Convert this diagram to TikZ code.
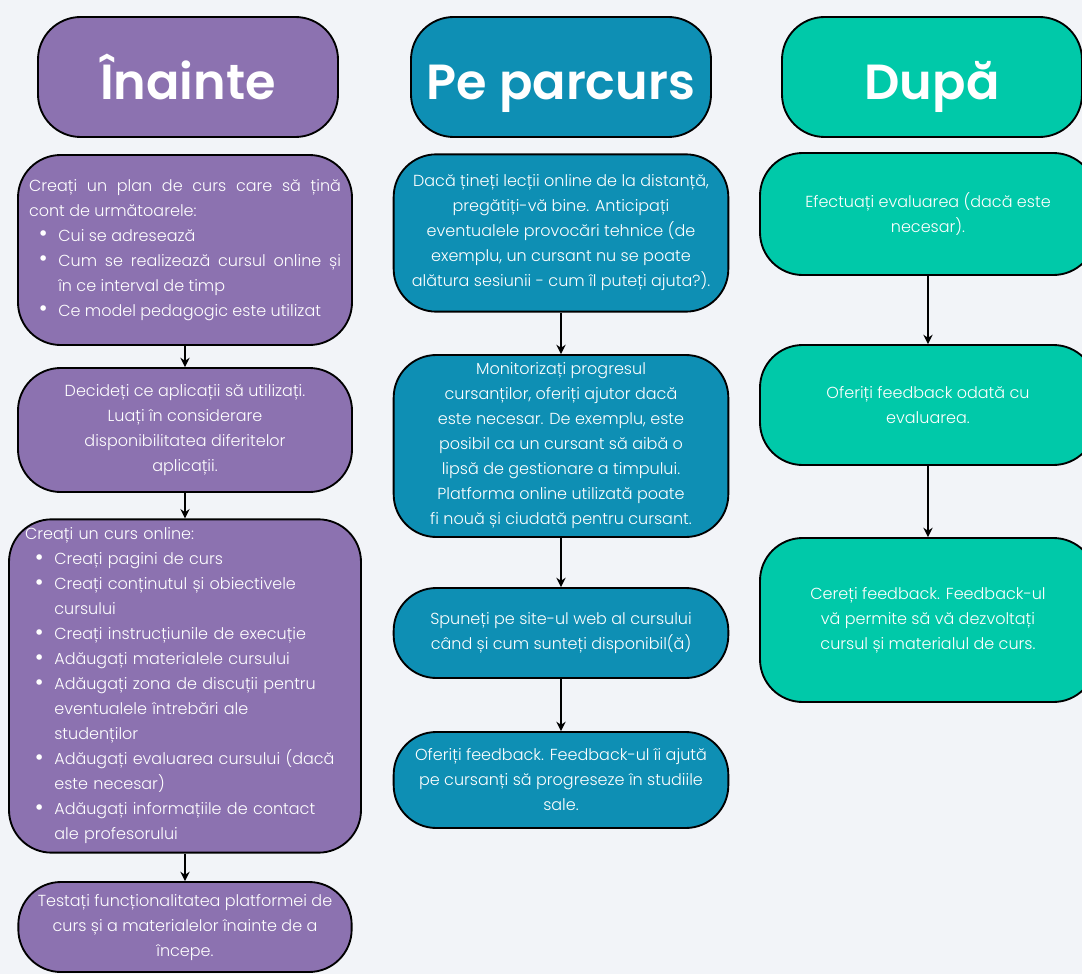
\documentclass[tikz,border=0pt]{standalone}
\usepackage{fontspec}
\setmainfont{Poppins}[UprightFont=* Light, BoldFont=* SemiBold]
\usepackage{enumitem}
\usetikzlibrary{arrows.meta}

\definecolor{fundal}{HTML}{F2F4F8}
\definecolor{inaintecol}{HTML}{8C72B0}
\definecolor{parcurscol}{HTML}{0E8FB4}
\definecolor{dupacol}{HTML}{00C9A9}

\setlist[itemize]{label=\raisebox{-0.05ex}{\scalebox{1.5}{\textbullet}}, leftmargin=22pt, labelsep=8pt, nosep}

\begin{document}
\begin{tikzpicture}[x=0.75pt, y=-0.75pt,
    titlu/.style={draw, line width=1.4pt, rounded corners=32pt, minimum width=225pt,
      minimum height=90pt, text height=36pt, text depth=2pt, text=white,
      font=\bfseries\fontsize{37}{40}\selectfont},
    pas/.style={draw, line width=1.4pt, rounded corners=32pt, inner sep=0pt, text=white,
      font=\fontsize{12}{18.75}\selectfont, align=center},
    sageata/.style={-{Stealth[length=7pt,width=7pt]}, line width=1.2pt}]
    \useasboundingbox (0,0) rectangle (1082,974);
    \fill[fundal] (0,0) rectangle (1082,974);

    % Inainte
    \node[titlu, fill=inaintecol] (inainte) at (188,77) {Înainte};
    \node[pas, fill=inaintecol, minimum width=250.5pt, minimum height=142.5pt,
      text width=234pt, align=justify] (plan) at (185,250) {Creați un plan de curs care să țină\linebreak
      cont de următoarele:
      \begin{itemize}
        \item Cui se adresează
        \item Cum se realizează cursul online și\linebreak în ce interval de timp
        \item Ce model pedagogic este utilizat
      \end{itemize}};
    \node[pas, fill=inaintecol, minimum width=250.5pt, minimum height=93pt] (aplicatii) at (185,430)
      {Decideți ce aplicații să utilizați.\\ Luați în considerare\\ disponibilitatea diferitelor\\ aplicații.};
    \node[pas, fill=inaintecol, minimum width=264pt, minimum height=250pt,
      text width=240pt, align=left] (curs) at (185,686) {Creați un curs online:
      \begin{itemize}
        \item Creați pagini de curs
        \item Creați conținutul și obiectivele\newline cursului
        \item Creați instrucțiunile de execuție
        \item Adăugați materialele cursului
        \item Adăugați zona de discuții pentru\newline eventualele întrebări ale\newline studenților
        \item Adăugați evaluarea cursului (dacă\newline este necesar)
        \item Adăugați informațiile de contact\newline ale profesorului
      \end{itemize}};
    \node[pas, fill=inaintecol, minimum width=250pt, minimum height=67.5pt] (test) at (185,927)
      {Testați funcționalitatea platformei de\\ curs și a materialelor înainte de a\\ începe.};

    % Pe parcurs
    \node[titlu, fill=parcurscol] (parcurs) at (561,77) {Pe parcurs};
    \node[pas, fill=parcurscol, minimum width=251pt, minimum height=118pt] (lectii) at (561,233)
      {Dacă țineți lecții online de la distanță,\\ pregătiți-vă bine. Anticipați\\
      eventualele provocări tehnice (de\\ exemplu, un cursant nu se poate\\
      alătura sesiunii - cum îl puteți ajuta?).};
    \node[pas, fill=parcurscol, minimum width=251pt, minimum height=136.5pt] (progres) at (561,446)
      {Monitorizați progresul\\ cursanților, oferiți ajutor dacă\\ este necesar. De exemplu, este\\
      posibil ca un cursant să aibă o\\ lipsă de gestionare a timpului.\\
      Platforma online utilizată poate\\ fi nouă și ciudată pentru cursant.};
    \node[pas, fill=parcurscol, minimum width=251pt, minimum height=67.5pt] (site) at (561,633)
      {Spuneți pe site-ul web al cursului\\ când și cum sunteți disponibil(ă)};
    \node[pas, fill=parcurscol, minimum width=251pt, minimum height=72pt] (feedback) at (561,780)
      {Oferiți feedback. Feedback-ul îi ajută\\ pe cursanți să progreseze în studiile\\ sale.};

    % Dupa
    \node[titlu, fill=dupacol] (dupa) at (932,77) {După};
    \node[pas, fill=dupacol, minimum width=252pt, minimum height=91.5pt] (evaluare) at (928,214)
      {Efectuați evaluarea (dacă este\\ necesar).};
    \node[pas, fill=dupacol, minimum width=252pt, minimum height=90pt] (odata) at (928,405)
      {Oferiți feedback odată cu\\ evaluarea.};
    \node[pas, fill=dupacol, minimum width=252pt, minimum height=123pt] (cereti) at (928,620)
      {Cereți feedback. Feedback-ul\\ vă permite să vă dezvoltați\\ cursul și materialul de curs.};

    \draw[sageata] (plan) -- (aplicatii);
    \draw[sageata] (aplicatii) -- (curs);
    \draw[sageata] (curs) -- (test);
    \draw[sageata] (lectii) -- (progres);
    \draw[sageata] (progres) -- (site);
    \draw[sageata] (site) -- (feedback);
    \draw[sageata] (evaluare) -- (odata);
    \draw[sageata] (odata) -- (cereti);
\end{tikzpicture}
\end{document}
